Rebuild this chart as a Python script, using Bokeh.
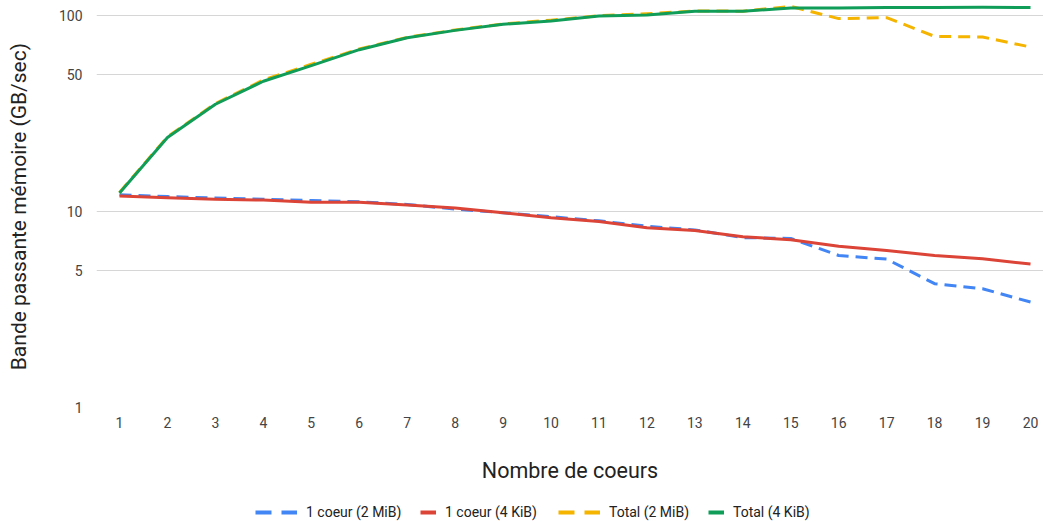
from bokeh.plotting import figure
from bokeh.layouts import column
from bokeh.models import FixedTicker, Range1d, Legend, LegendItem, CustomJSTickFormatter
from bokeh.embed import file_html
from bokeh.resources import INLINE

cores = list(range(1, 21))
one_core_2mib = [12.15, 11.9, 11.7, 11.55, 11.35, 11.2, 10.85, 10.27, 9.85, 9.4,
                 8.95, 8.4, 8.05, 7.35, 7.28, 5.96, 5.71, 4.28, 4.03, 3.45]
one_core_4kib = [11.97, 11.75, 11.55, 11.42, 11.15, 11.15, 10.77, 10.4, 9.85, 9.29,
                 8.89, 8.26, 8.0, 7.43, 7.17, 6.65, 6.32, 5.96, 5.73, 5.39]
total_2mib = [12.5, 24.0, 35.5, 46.8, 56.3, 67.3, 77.2, 84.2, 90.3, 94.5,
              99.5, 101.8, 105.2, 105.0, 111.0, 96.2, 97.3, 78.1, 77.5, 68.9]
total_4kib = [12.4, 23.8, 35.2, 46.1, 55.4, 66.8, 76.9, 83.8, 90.0, 93.5,
              99.2, 100.4, 104.8, 104.8, 109.0, 109.0, 109.5, 109.5, 110.0, 109.5]
y_ticks = [1, 5, 10, 50, 100]
labels = ["1 coeur (2 MiB)", "1 coeur (4 KiB)", "Total (2 MiB)", "Total (4 KiB)"]
colors = ["#4285F4", "#DB4437", "#F4B400", "#0F9D58"]
dashed = [True, False, True, False]

FONT = "Roboto"
NAN = float("nan")

p = figure(width=1043, height=498, y_axis_type="log",
           x_range=Range1d(0.52, 20.271), y_range=Range1d(1, 119),
           output_backend="svg", toolbar_location=None,
           min_border_left=96, min_border_right=0, min_border_top=0,
           min_border_bottom=91)
p.outline_line_color = None
p.background_fill_color = "white"

series = [one_core_2mib, one_core_4kib, total_2mib, total_4kib]
for vals, col, d in zip(series, colors, dashed):
    p.line(cores, vals, line_color=col, line_width=3,
           line_dash="12 7" if d else "solid", line_join="round")

# axes
p.xaxis.ticker = FixedTicker(ticks=cores)
p.yaxis.ticker = FixedTicker(ticks=y_ticks)
p.yaxis.formatter = CustomJSTickFormatter(code="return tick.toString();")
p.xgrid.visible = False
p.ygrid.grid_line_color = "#d6d6d6"
p.ygrid.grid_line_width = 1
for ax in (p.xaxis, p.yaxis):
    ax.axis_line_color = None
    ax.major_tick_line_color = None
    ax.minor_tick_line_color = None
    ax.major_label_text_font = FONT
    ax.major_label_text_font_size = "14px"
    ax.major_label_text_color = "#444444"
    ax.axis_label_text_font = FONT
    ax.axis_label_text_font_style = "normal"
    ax.axis_label_text_color = "#222222"
p.xaxis.major_label_standoff = 3
p.yaxis.major_label_standoff = 8
p.xaxis.axis_label = "Nombre de coeurs"
p.xaxis.axis_label_text_font_size = "21.5px"
p.xaxis.axis_label_standoff = 27
p.yaxis.axis_label = "Bande passante mémoire  (GB/sec)"
p.yaxis.axis_label_text_font_size = "21px"
p.yaxis.axis_label_standoff = 25

# legend strip below the chart: one small legend per entry
lg_fig = figure(width=1043, height=24, x_range=Range1d(0, 1), y_range=Range1d(0, 1),
                output_backend="svg", toolbar_location=None,
                x_axis_location=None, y_axis_location=None,
                min_border_left=0, min_border_right=0, min_border_top=0,
                min_border_bottom=0)
lg_fig.outline_line_color = None
lg_fig.grid.visible = False

legend_x = [159, 324, 462, 612]
for lab, col, d, lx in zip(labels, colors, dashed, legend_x):
    proxy = lg_fig.line([NAN], [NAN], line_color=col, line_width=4,
                        line_dash="16 10" if d else "solid")
    lg = Legend(items=[LegendItem(label=lab, renderers=[proxy])],
                location=(lx, 2), orientation="horizontal",
                glyph_width=42 if d else 16, glyph_height=16, label_height=16,
                label_standoff=9, padding=0, margin=0, spacing=0,
                border_line_color=None, background_fill_alpha=0,
                label_text_font=FONT, label_text_font_size="14px",
                label_text_color="#222222")
    lg_fig.add_layout(lg, "center")

layout = column(p, lg_fig, spacing=0)
open("out.html", "w").write(file_html(layout, INLINE))
